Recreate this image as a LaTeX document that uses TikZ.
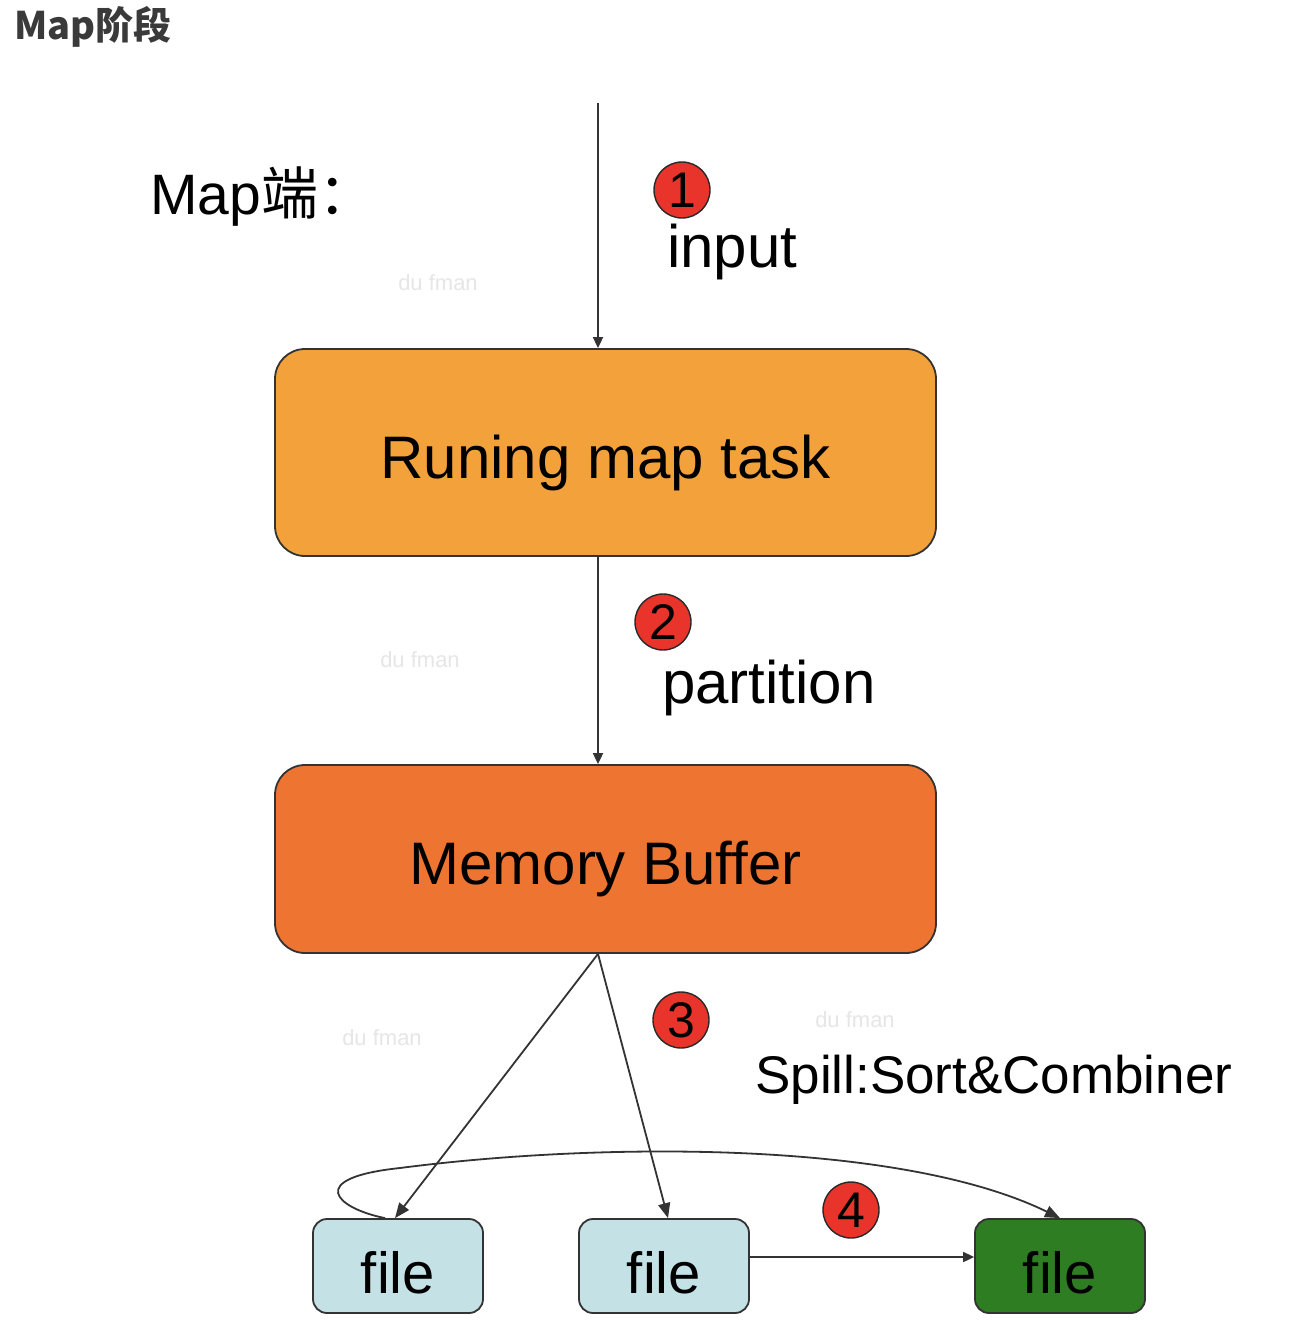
\documentclass[tikz,border=0pt]{standalone}
\usepackage{fontspec}
\setmainfont{Liberation Sans}
\newfontfamily\cjk{Noto Sans CJK SC}
\usetikzlibrary{arrows.meta}
\definecolor{boxA}{HTML}{F3A13B}
\definecolor{boxB}{HTML}{EE7431}
\definecolor{fileblue}{HTML}{C4E1E6}
\definecolor{filegreen}{HTML}{2F7D22}
\definecolor{numred}{HTML}{E8342A}
\definecolor{edge}{HTML}{333333}
\definecolor{titlegray}{HTML}{3A3A3A}
\definecolor{wm}{HTML}{E6E6E6}
\tikzset{
  bigbox/.style={draw=edge, line width=1.8pt, rounded corners=30pt, minimum width=661pt, inner sep=0pt, text depth=0pt, font=\fontsize{60}{70}\selectfont},
  filebox/.style={draw=edge, line width=1.8pt, rounded corners=14pt, minimum width=170pt, minimum height=94pt, inner sep=0pt, text height=54pt, text depth=0pt, font=\fontsize{58}{66}\selectfont},
  numcircle/.style={circle, draw=edge!80!black, line width=1.4pt, fill=numred, minimum size=56pt, inner sep=0pt, font=\fontsize{50}{56}\selectfont},
  label/.style={anchor=base west, inner sep=0pt, font=\fontsize{60}{70}\selectfont},
  watermark/.style={text=wm, inner sep=0pt, font=\fontsize{22}{24}\selectfont},
  conn/.style={draw=edge, line width=1.8pt},
  tipA/.style={-{Triangle[length=15pt,width=12pt]}},
  tipB/.style={-{Triangle[length=11pt,width=10pt]}}
}
\begin{document}
\begin{tikzpicture}[x=1pt,y=-1pt]
\useasboundingbox (0,0) rectangle (1314,1332);
\fill[white] (0,0) rectangle (1314,1332);

% title
\node[anchor=base west, inner sep=0pt, text=titlegray, font=\cjk\bfseries\fontsize{38}{44}\selectfont] (title) at (14,40) {Map阶段};

% Map side label
\node[label, font=\fontsize{57}{66}\selectfont] (mapside) at (150,215) {Map{\cjk 端：}};

% watermarks
\node[watermark] (wm1) at (438,283) {du fman};
\node[watermark] (wm2) at (420,660) {du fman};
\node[watermark] (wm3) at (382,1038) {du fman};
\node[watermark] (wm4) at (855,1020) {du fman};

% boxes
\node[bigbox, fill=boxA, minimum height=207pt, text height=51pt] (b1) at (605.5,452.5) {Runing map task};
\node[bigbox, fill=boxB, minimum height=188pt, text height=50pt] (b2) at (605.5,859) {Memory Buffer};

\node[filebox, fill=fileblue] (f1) at (398,1266) {file};
\node[filebox, fill=fileblue] (f2) at (664,1266) {file};
\node[filebox, fill=filegreen] (f3) at (1060,1266) {file};

% numbered circles
\node[numcircle] (n1) at (682,190) {1};
\node[numcircle] (n2) at (663,622) {2};
\node[numcircle] (n3) at (681,1020) {3};
\node[numcircle] (n4) at (851,1210) {4};

% labels
\node[label] (input) at (667,268) {input};
\node[label] (partition) at (662,703) {partition};
\node[label, font=\fontsize{53}{60}\selectfont] (spill) at (755,1093) {Spill:Sort\&Combiner};

% connectors
\coordinate (axis) at (598,0);
\coordinate (src) at (598,103);
\draw[conn, tipB] (src) -- (b1.north -| axis);
\draw[conn, tipB] (b1.south -| axis) -- (b2.north -| axis);
\draw[conn, tipA] (b2.south -| axis) -- ([xshift=-3pt]f1.north);
\draw[conn, tipA] (b2.south -| axis) -- ([xshift=4pt]f2.north);
\draw[conn, tipB] ([yshift=9pt]f2.east) -- ([yshift=9pt]f3.west);
\draw[conn, tipA] ([xshift=-13pt]f1.north) .. controls (335,1208) and (305,1178) .. (400,1168)
   .. controls (600,1142) and (900,1140) .. (f3.north);
\end{tikzpicture}
\end{document}
